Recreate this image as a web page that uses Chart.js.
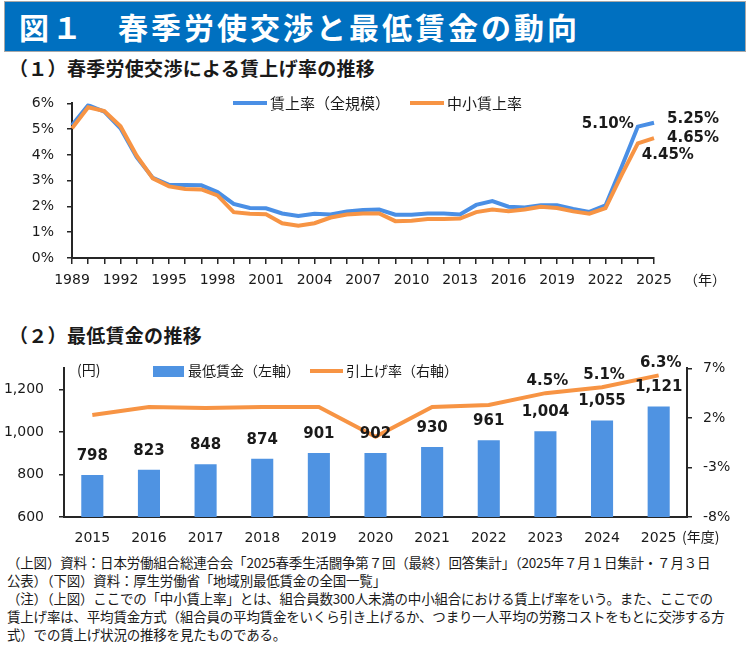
<!DOCTYPE html>
<html lang="ja">
<head>
<meta charset="utf-8">
<script src="https://cdn.jsdelivr.net/npm/chart.js@4.4.1/dist/chart.umd.min.js"></script>
<style>
  body { margin: 0; background: #fff; font-family: "Noto Sans CJK JP", sans-serif; color: #1a1a1a; }
  #page { position: relative; width: 750px; height: 649px; overflow: hidden; }
  .title {
    position: absolute; left: 4px; top: 1px; width: 742px; height: 51px; box-sizing: border-box;
    background: #0070C0; border: 1px solid #a8a8a8; color: #fff;
    font-weight: 700; font-size: 30px; line-height: 49px; padding-left: 14px; letter-spacing: 3px; white-space: nowrap;
  }
  .sub { position: absolute; left: 9px; font-weight: 700; font-size: 19px; line-height: 24px; letter-spacing: 0.3px; white-space: nowrap; }
  canvas { position: absolute; left: 0; }
  .notes { position: absolute; left: 7px; top: 554px; font-size: 13.5px; line-height: 17.9px; letter-spacing: -0.2px; white-space: nowrap; }
</style>
</head>
<body>
<div id="page">
  <div class="title">図１　春季労使交渉と最低賃金の動向</div>
  <div class="sub" style="top:56px">（１）春季労使交渉による賃上げ率の推移</div>
  <canvas id="chart-rates" width="750" height="215" style="top:82px;width:750px;height:215px"></canvas>
  <div class="sub" style="top:323px">（２）最低賃金の推移</div>
  <canvas id="chart-minwage" width="750" height="205" style="top:345px;width:750px;height:205px"></canvas>
  <div class="notes">
    <div>（上図）資料：日本労働組合総連合会「2025春季生活闘争第７回（最終）回答集計」（2025年７月１日集計・７月３日</div>
    <div>公表）（下図）資料：厚生労働省「地域別最低賃金の全国一覧」</div>
    <div>（注）（上図）ここでの「中小賃上率」とは、組合員数300人未満の中小組合における賃上げ率をいう。また、ここでの</div>
    <div>賃上げ率は、平均賃金方式（組合員の平均賃金をいくら引き上げるか、つまり一人平均の労務コストをもとに交渉する方</div>
    <div>式）での賃上げ状況の推移を見たものである。</div>
  </div>
</div>
<script>
// (1) 春季労使交渉 賃上げ率 (%)
const rateYears = ["1989","1990","1991","1992","1993","1994","1995","1996","1997","1998",
  "1999","2000","2001","2002","2003","2004","2005","2006","2007","2008",
  "2009","2010","2011","2012","2013","2014","2015","2016","2017","2018",
  "2019","2020","2021","2022","2023","2024","2025"];
const allSizeRate = [5.15,5.93,5.68,5.03,3.91,3.11,2.84,2.83,2.82,2.56,
  2.10,1.94,1.93,1.73,1.63,1.72,1.69,1.81,1.86,1.88,
  1.68,1.68,1.73,1.73,1.69,2.06,2.21,1.99,1.96,2.05,
  2.05,1.90,1.79,2.04,3.54,5.10,5.25];
const smeRate = [5.03,5.85,5.70,5.11,3.97,3.09,2.78,2.68,2.66,2.43,
  1.78,1.72,1.70,1.35,1.25,1.35,1.57,1.69,1.73,1.73,
  1.43,1.45,1.51,1.51,1.53,1.78,1.88,1.81,1.88,1.99,
  1.94,1.81,1.72,1.94,3.23,4.45,4.65];

// (2) 最低賃金 (円) と引上げ率 (%)
const wageYears = ["2015","2016","2017","2018","2019","2020","2021","2022","2023","2024","2025"];
const minWage = [798, 823, 848, 874, 901, 902, 930, 961, 1004, 1055, 1121];
const raiseRate = [2.3, 3.1, 3.0, 3.1, 3.1, 0.1, 3.1, 3.3, 4.5, 5.1, 6.3];
const labeledRaiseYears = ["2023", "2024", "2025"];

const JP = "'Noto Sans CJK JP', sans-serif";
const NUM = "'DejaVu Sans', Verdana, sans-serif";
const BLUE = "#4A8FE5";
const BAR_BLUE = "#4F93E2";
const ORANGE = "#F79444";
const INK = "#1a1a1a";
const AXIS = "#262626";

Chart.defaults.font.family = NUM;
Chart.defaults.font.size = 14;
Chart.defaults.color = INK;
Chart.defaults.animation = false;

function axisGrid(len) {
  return { display: true, drawOnChartArea: false, drawTicks: true, tickLength: len, color: AXIS, lineWidth: 1.5 };
}

const rateExtras = {
  id: "rateExtras",
  afterDatasetsDraw(chart) {
    const ctx = chart.ctx;
    const ds = chart.data.datasets;
    ctx.save();
    // legend inside the plot
    ctx.font = `15px ${JP}`;
    ctx.textBaseline = "middle";
    ctx.textAlign = "left";
    [[0, 233], [1, 410]].forEach(([i, lx]) => {
      ctx.strokeStyle = ds[i].borderColor;
      ctx.lineWidth = 4;
      ctx.beginPath(); ctx.moveTo(lx, 21); ctx.lineTo(lx + 34, 21); ctx.stroke();
      ctx.fillStyle = INK;
      ctx.fillText(ds[i].label, lx + 37, 21);
    });
    // end-point labels
    const b = chart.getDatasetMeta(0).data;
    const o = chart.getDatasetMeta(1).data;
    const n = rateYears.length;
    const pct = v => v.toFixed(2) + "%";
    ctx.font = `bold 15px ${NUM}`;
    ctx.fillStyle = INK;
    ctx.textAlign = "right";
    ctx.fillText(pct(allSizeRate[n - 2]), b[n - 2].x - 4, b[n - 2].y - 2);
    ctx.textAlign = "left";
    ctx.fillText(pct(allSizeRate[n - 1]), b[n - 1].x + 13, b[n - 1].y - 4);
    ctx.fillText(pct(smeRate[n - 1]), o[n - 1].x + 13, o[n - 1].y);
    ctx.fillText(pct(smeRate[n - 2]), o[n - 2].x + 4, o[n - 2].y + 12);
    // unit
    ctx.font = `14px ${JP}`;
    ctx.fillText("（年）", chart.chartArea.right + 30, 198);
    ctx.restore();
  }
};

new Chart(document.getElementById("chart-rates"), {
  type: "line",
  data: {
    labels: rateYears,
    datasets: [
      { label: "賃上率（全規模）", data: allSizeRate, borderColor: BLUE, borderWidth: 4, pointRadius: 0, tension: 0, order: 2 },
      { label: "中小賃上率", data: smeRate, borderColor: ORANGE, borderWidth: 4, pointRadius: 0, tension: 0, order: 1 }
    ]
  },
  options: {
    responsive: false,
    layout: { padding: { top: 14, right: 96, left: 0, bottom: 0 } },
    plugins: { legend: { display: false }, tooltip: { enabled: false } },
    scales: {
      x: {
        offset: false,
        grid: axisGrid(6),
        border: { color: AXIS, width: 2 },
        ticks: { autoSkip: false, maxRotation: 0, padding: 8,
          callback: (v, i) => (i % 3 === 0 ? rateYears[i] : "") },
        afterFit: s => { s.height = 39; }
      },
      y: {
        min: 0, max: 6,
        grid: axisGrid(5),
        border: { color: AXIS, width: 2 },
        ticks: { stepSize: 1, padding: 13, callback: v => v + "%" },
        afterFit: s => { s.width = 72; }
      }
    }
  },
  plugins: [rateExtras]
});

const wageExtras = {
  id: "wageExtras",
  afterDatasetsDraw(chart) {
    const ctx = chart.ctx;
    const ds = chart.data.datasets;
    ctx.save();
    // legend
    ctx.font = `14px ${JP}`;
    ctx.textBaseline = "middle";
    ctx.textAlign = "left";
    ctx.fillStyle = ds[0].backgroundColor;
    ctx.fillRect(153, 21, 31, 11);
    ctx.fillStyle = INK;
    ctx.fillText(ds[0].label, 188, 26);
    ctx.strokeStyle = ds[1].borderColor;
    ctx.lineWidth = 4;
    ctx.beginPath(); ctx.moveTo(310, 26); ctx.lineTo(343, 26); ctx.stroke();
    ctx.fillText(ds[1].label, 346, 26);
    ctx.fillText("(円)", 77, 25);
    ctx.fillText("(年度)", chart.chartArea.right - 5, chart.chartArea.bottom + 20);
    // bar values
    ctx.font = `bold 15px ${NUM}`;
    ctx.textAlign = "center";
    chart.getDatasetMeta(0).data.forEach((bar, i) => {
      ctx.fillText(minWage[i].toLocaleString("en-US"), bar.x, bar.y - 19);
    });
    // rate values
    chart.getDatasetMeta(1).data.forEach((pt, i) => {
      if (labeledRaiseYears.includes(wageYears[i])) {
        ctx.fillText(raiseRate[i].toFixed(1) + "%", pt.x + 2, pt.y - 12);
      }
    });
    ctx.restore();
  }
};

new Chart(document.getElementById("chart-minwage"), {
  type: "bar",
  data: {
    labels: wageYears,
    datasets: [
      { type: "bar", label: "最低賃金（左軸）", data: minWage, yAxisID: "y", backgroundColor: BAR_BLUE,
        barPercentage: 0.39, categoryPercentage: 1, order: 2 },
      { type: "line", label: "引上げ率（右軸）", data: raiseRate, yAxisID: "y1", borderColor: ORANGE,
        borderWidth: 4, pointRadius: 0, tension: 0, order: 1 }
    ]
  },
  options: {
    responsive: false,
    layout: { padding: { top: 14, right: 0, left: 0, bottom: 0 } },
    plugins: { legend: { display: false }, tooltip: { enabled: false } },
    scales: {
      x: {
        grid: { display: false },
        border: { color: AXIS, width: 2 },
        ticks: { maxRotation: 0, padding: 5 },
        afterFit: s => { s.height = 33; }
      },
      y: {
        position: "left", min: 600, max: 1300,
        grid: axisGrid(5),
        border: { color: AXIS, width: 2 },
        ticks: { stepSize: 200, padding: 15, callback: v => v.toLocaleString("en-US") },
        afterBuildTicks: s => { s.ticks = s.ticks.filter(t => t.value <= 1200); },
        afterFit: s => { s.width = 64; }
      },
      y1: {
        position: "right", min: -8, max: 7,
        grid: axisGrid(5),
        border: { color: AXIS, width: 2 },
        ticks: { stepSize: 5, padding: 11, callback: v => v + "%" },
        afterFit: s => { s.width = 63; }
      }
    }
  },
  plugins: [wageExtras]
});
</script>
</body>
</html>
